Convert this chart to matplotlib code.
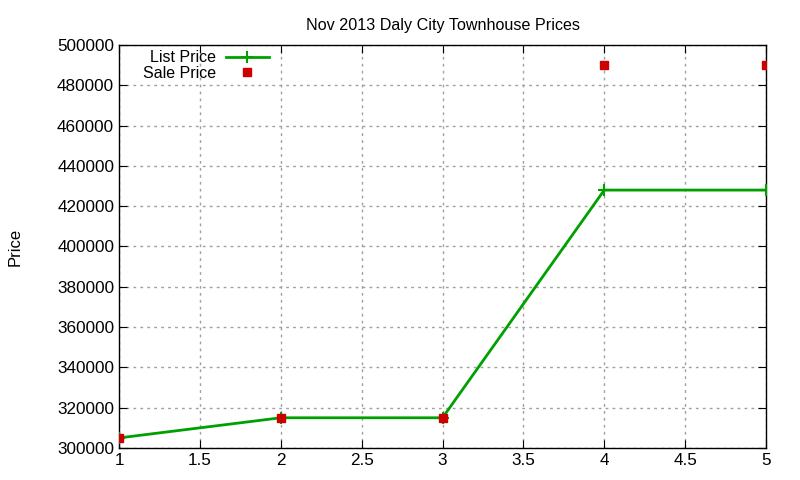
import matplotlib
matplotlib.use("Agg")
import matplotlib.pyplot as plt

units = [1, 2, 3, 4, 5]
list_price = [305000, 315000, 315000, 428000, 428000]
sale_price = [305000, 315000, 315000, 490000, 490000]

plt.rcParams['font.family'] = ['Liberation Sans', 'DejaVu Sans']

fig = plt.figure(figsize=(8, 4.8), dpi=100)
ax = fig.add_axes([119/800, 1 - 448/480, (766-119)/800, (448-45)/480])

ax.plot(units, list_price, color='#00a000', lw=2, marker='+', ms=8, mew=1.5,
        label='List Price', zorder=3)
ax.plot(units, sale_price, ls='none', marker='s', ms=6, color='#cc0000',
        label='Sale Price', zorder=4)

ax.set_xlim(1, 5)
ax.set_ylim(300000, 500000)
ax.set_xticks([1, 1.5, 2, 2.5, 3, 3.5, 4, 4.5, 5])
ax.set_xticklabels(['1', '1.5', '2', '2.5', '3', '3.5', '4', '4.5', '5'])
ax.set_yticks(range(300000, 500001, 20000))
ax.grid(True, color='#a0a0a0', ls=(0, (2, 3)), lw=1)
ax.tick_params(direction='in', labelsize=12.3, length=6, top=True, right=True)
for s in ax.spines.values():
    s.set_linewidth(1)
ax.set_title('Nov 2013 Daly City Townhouse Prices', fontsize=11.6, pad=11)
ax.set_ylabel('Price', fontsize=12, labelpad=25)

ax.legend(loc='upper left', bbox_to_anchor=(0.02, 1.015), frameon=False,
          markerfirst=False, fontsize=11.5, handlelength=2.7, labelspacing=0.05,
          borderaxespad=0.3, handletextpad=0.6)

fig.savefig('out.png', dpi=100)
